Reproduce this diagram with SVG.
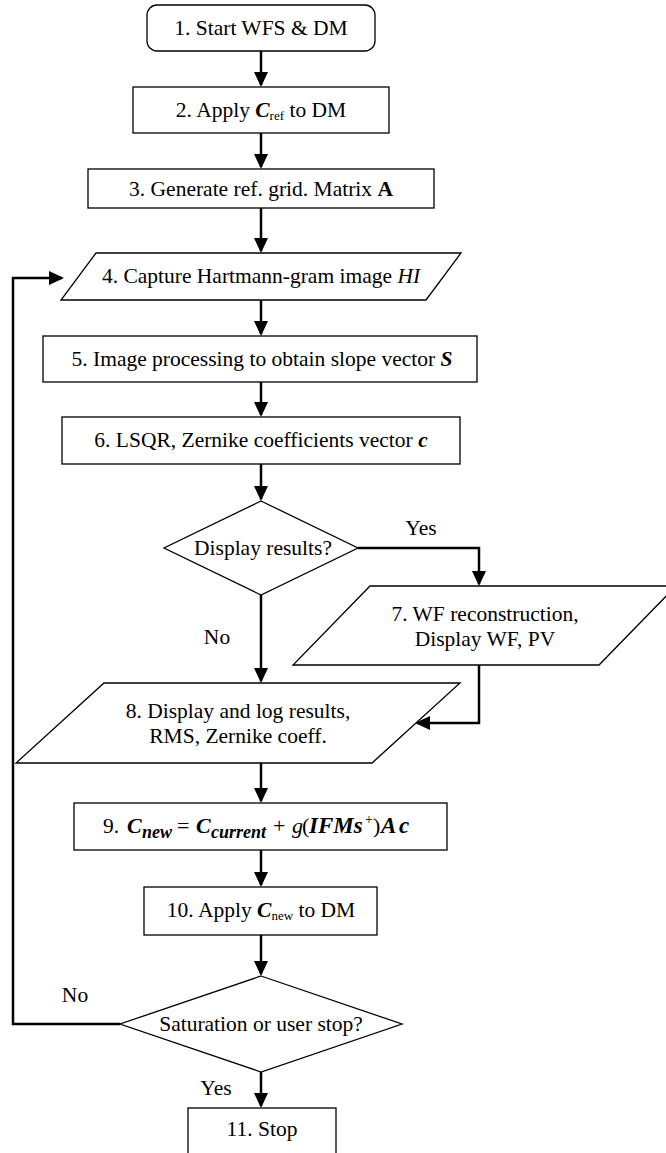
<svg xmlns="http://www.w3.org/2000/svg" width="666" height="1153" viewBox="0 0 666 1153" font-family="'Liberation Serif', 'DejaVu Serif', 'Times New Roman', serif">
  <style>
    .shape { fill: #ffffff; stroke: #000000; stroke-width: 1.3; }
    .conn { fill: none; stroke: #000000; stroke-width: 2.5; }
    .arr { marker-end: url(#ah); }
    text { font-family: 'Liberation Serif', 'DejaVu Serif', 'Times New Roman', serif; font-size: 21.5px; fill: #000000; }
    .c { text-anchor: middle; }
    .bi { font-weight: bold; font-style: italic; }
    .b { font-weight: bold; }
    .i { font-style: italic; }
    .sub { font-size: 13px; }
    .m { font-size: 22px; }
    .msub { font-size: 18px; font-weight: bold; font-style: italic; }
    .mbig { font-size: 23px; }
    .sup { font-size: 14px; }
  </style>
  <defs>
    <marker id="ah" markerWidth="15" markerHeight="14" refX="13" refY="7" orient="auto" markerUnits="userSpaceOnUse">
      <path d="M0,0 L15,7 L0,14 z" fill="#000000"/>
    </marker>
  </defs>
  <rect width="666" height="1153" fill="#ffffff"/>

  <!-- connectors -->
  <g id="connectors">
    <line class="conn arr" x1="261" y1="51" x2="261" y2="85"/>
    <line class="conn arr" x1="261" y1="133" x2="261" y2="167"/>
    <line class="conn arr" x1="261" y1="208" x2="261" y2="251"/>
    <line class="conn arr" x1="261" y1="300" x2="261" y2="334"/>
    <line class="conn arr" x1="261" y1="382" x2="261" y2="415"/>
    <line class="conn arr" x1="261" y1="464" x2="261" y2="499"/>
    <polyline class="conn arr" points="358,548 479,548 479,584"/>
    <line class="conn arr" x1="261" y1="595" x2="261" y2="681"/>
    <polyline class="conn arr" points="479,665 479,723 417,723"/>
    <line class="conn arr" x1="261" y1="763" x2="261" y2="801"/>
    <line class="conn arr" x1="261" y1="850" x2="261" y2="885"/>
    <line class="conn arr" x1="261" y1="935" x2="261" y2="974"/>
    <polyline class="conn arr" points="120,1024 13,1024 13,278 62,278"/>
    <line class="conn arr" x1="261" y1="1072" x2="261" y2="1106"/>
  </g>

  <!-- connector labels -->
  <g id="labels">
    <text class="c" x="421" y="535">Yes</text>
    <text class="c" x="217" y="644">No</text>
    <text class="c" x="75" y="1002">No</text>
    <text class="c" x="216" y="1095">Yes</text>
  </g>

  <g id="n1">
    <rect class="shape" x="147" y="5" width="228" height="46" rx="10" ry="10"/>
    <text class="c" x="261" y="35">1. Start WFS &amp; DM</text>
  </g>

  <g id="n2">
    <rect class="shape" x="133" y="87" width="256" height="46"/>
    <text class="c" x="261" y="117">2. Apply <tspan class="bi">C</tspan><tspan class="sub" dy="3">ref</tspan><tspan dy="-3"> to DM</tspan></text>
  </g>

  <g id="n3">
    <rect class="shape" x="88" y="169" width="346" height="39"/>
    <text class="c" x="261" y="196">3. Generate ref. grid. Matrix <tspan class="b">A</tspan></text>
  </g>

  <g id="n4">
    <polygon class="shape" points="96,253 461,253 426,300 61,300"/>
    <text class="c" x="261" y="283">4. Capture Hartmann-gram image <tspan class="i">HI</tspan></text>
  </g>

  <g id="n5">
    <rect class="shape" x="43" y="336" width="434" height="46"/>
    <text class="c" x="262" y="366">5. Image processing to obtain slope vector <tspan class="bi">S</tspan></text>
  </g>

  <g id="n6">
    <rect class="shape" x="62" y="417" width="398" height="47"/>
    <text class="c" x="261" y="447">6. LSQR, Zernike coefficients vector <tspan class="bi">c</tspan></text>
  </g>

  <g id="d1">
    <polygon class="shape" points="261,501 358,548 261,595 164,548"/>
    <text class="c" x="263" y="555">Display results?</text>
  </g>

  <g id="n7">
    <polygon class="shape" points="370,586 676,586 599,665 293,665"/>
    <text class="c" x="485" y="621">7. WF reconstruction,</text>
    <text class="c" x="485" y="646">Display WF, PV</text>
  </g>

  <g id="n8">
    <polygon class="shape" points="104,683 460,683 372,763 16,763"/>
    <text class="c" x="238" y="718">8. Display and log results,</text>
    <text class="c" x="238" y="743">RMS, Zernike coeff.</text>
  </g>

  <g id="n9">
    <rect class="shape" x="74" y="803" width="373" height="47"/>
    <!-- update rule, each math piece placed on its own x -->
    <text y="833"><tspan x="103">9.</tspan><tspan class="m bi" x="127">C</tspan><tspan class="msub" x="142" y="838">new</tspan><tspan class="m" x="177" y="833">=</tspan><tspan class="m bi" x="196">C</tspan><tspan class="msub" x="211" y="838">current</tspan><tspan class="m" x="273" y="833">+</tspan><tspan class="m i" x="292">g</tspan><tspan class="m" x="302">(</tspan><tspan class="mbig bi" x="309">IFMs</tspan><tspan class="sup" x="365" y="824">+</tspan><tspan class="m" x="373" y="833">)</tspan><tspan class="mbig bi" x="381">A</tspan><tspan class="mbig bi" x="399">c</tspan></text>
  </g>

  <g id="n10">
    <rect class="shape" x="144" y="887" width="233" height="48"/>
    <text class="c" x="261" y="917">10. Apply <tspan class="bi">C</tspan><tspan class="sub" dy="3">new</tspan><tspan dy="-3"> to DM</tspan></text>
  </g>

  <g id="d2">
    <polygon class="shape" points="261,976 402,1024 261,1072 120,1024"/>
    <text class="c" x="261" y="1031">Saturation or user stop?</text>
  </g>

  <g id="n11">
    <rect class="shape" x="188" y="1108" width="148" height="50"/>
    <text class="c" x="262" y="1136">11. Stop</text>
  </g>
</svg>
